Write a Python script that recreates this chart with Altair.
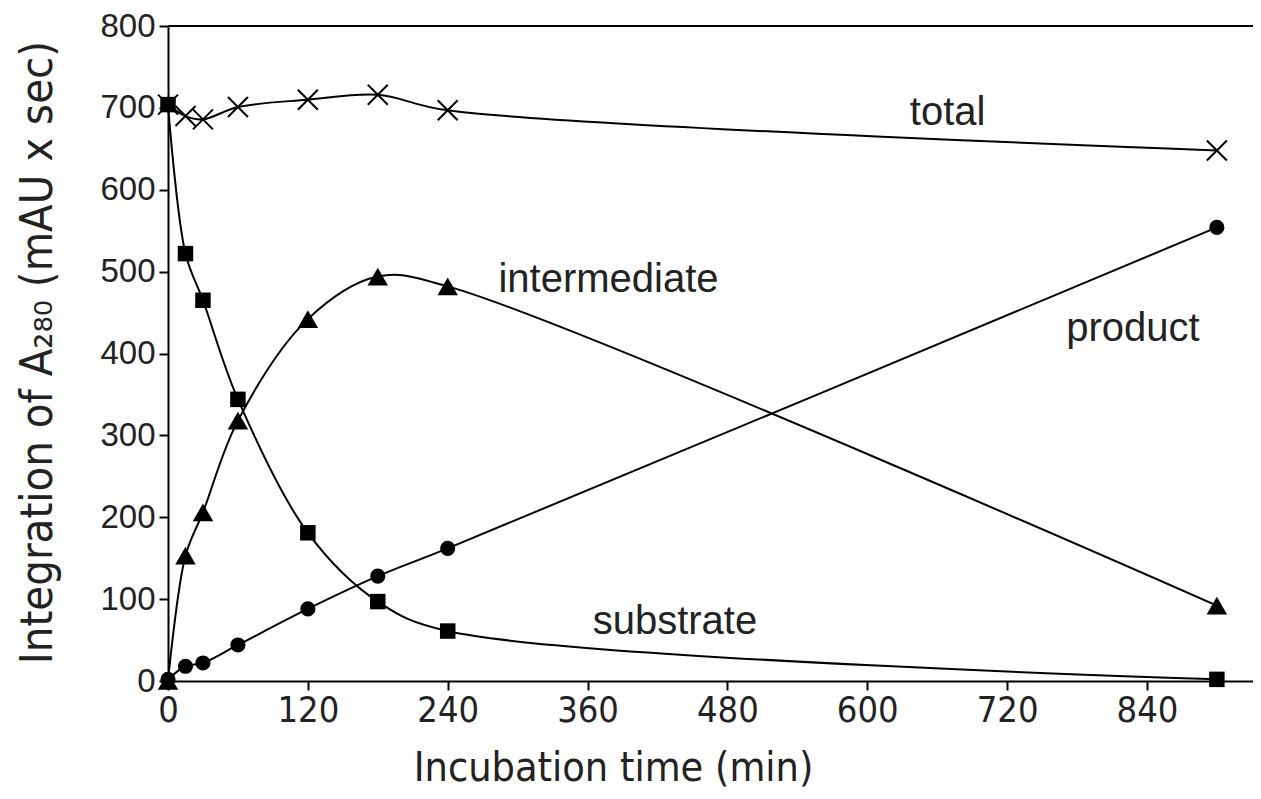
import altair as alt
import pandas as pd

# ---- data ----
time = [0, 15, 30, 60, 120, 180, 240, 900]
substrate = [704, 522, 465, 344, 181, 97, 61, 2]
intermediate = [0, 153, 206, 318, 442, 494, 482, 92]
product = [2, 18, 22, 44, 88, 128, 162, 554]
total = [704, 690, 686, 701, 710, 716, 697, 648]

x_ticks = [0, 120, 240, 360, 480, 600, 720, 840]
y_ticks = [0, 100, 200, 300, 400, 500, 600, 700, 800]

label_text = ["total", "intermediate", "product", "substrate"]
label_x = [669, 378, 828, 435]
label_y = [694, 490, 430, 72]

series = {
    "substrate": substrate,
    "intermediate": intermediate,
    "product": product,
    "total": total,
}
rows = []
for name, vals in series.items():
    for t, v in zip(time, vals):
        rows.append({"series": name, "time": t, "value": v})
df = pd.DataFrame(rows)
labels = pd.DataFrame({"text": label_text, "time": label_x, "value": label_y})

NARROW = "Liberation Sans Narrow, Arial Narrow, DejaVu Sans Condensed, sans-serif"
REG = "Liberation Sans, Arial, sans-serif"

xenc = alt.X(
    "time:Q",
    scale=alt.Scale(domain=[0, 931], nice=False, zero=False),
    axis=alt.Axis(
        values=x_ticks, title="Incubation time (min)", grid=False,
        labelFont=NARROW, labelFontSize=36, labelColor="#222", labelFlush=False,
        titleFont=NARROW, titleFontSize=41, titleFontWeight="normal", titleColor="#222",
        titleX=445, titleY=87, titleBaseline="middle", titleAlign="center",
        domainColor="black", domainWidth=2, tickColor="black", tickWidth=2,
        tickSize=9, labelPadding=3,
    ),
)
yenc = alt.Y(
    "value:Q",
    scale=alt.Scale(domain=[0, 800], nice=False),
    axis=alt.Axis(
        values=y_ticks, title="Integration of A₂₈₀  (mAU x sec)", grid=False,
        labelFont=REG, labelFontSize=33, labelColor="#222",
        titleFont=NARROW, titleFontSize=45, titleFontWeight="normal", titleColor="#222",
        titleX=-131, titleY=326, titleAngle=270, titleBaseline="middle", titleAlign="center",
        domainColor="black", domainWidth=2, tickColor="black", tickWidth=2,
        tickSize=9, labelPadding=4,
    ),
)

base = alt.Chart(df)

lines = base.mark_line(interpolate="catmull-rom", color="black", strokeWidth=2).encode(
    x=xenc, y=yenc, detail="series:N"
)

def pts(name, **kw):
    return base.transform_filter(alt.datum.series == name).mark_point(
        color="black", opacity=1, **kw
    ).encode(x="time:Q", y="value:Q")

p_total = pts("total", shape="M-1,-1L1,1M-1,1L1,-1", filled=False, size=400, strokeWidth=2)
p_prod = pts("product", shape="circle", filled=True, size=230)
p_int = pts("intermediate", shape="triangle-up", filled=True, size=420)
p_sub = pts("substrate", shape="square", filled=True, size=240)

top_rule = alt.Chart(pd.DataFrame({"value": [800]})).mark_rule(
    color="black", strokeWidth=2
).encode(y="value:Q")

text = alt.Chart(labels).mark_text(
    font=REG, fontSize=40, color="#222", align="center", baseline="middle"
).encode(x="time:Q", y="value:Q", text="text:N")

chart = alt.layer(
    lines, p_total, p_prod, p_int, p_sub, top_rule, text
).properties(
    width=1085, height=655,
    autosize=alt.AutoSizeParams(type="none"),
    padding={"left": 160, "top": 18, "right": 0, "bottom": 110},
).configure_view(stroke=None)

chart.save("out.html", embed_options={"renderer": "svg", "actions": False})
